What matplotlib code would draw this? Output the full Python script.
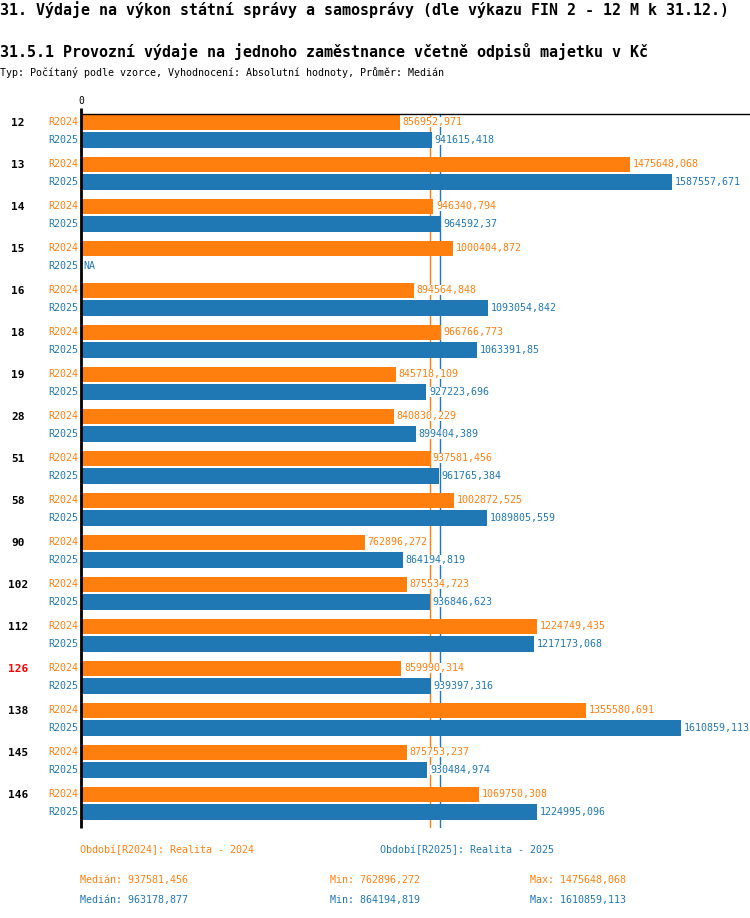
import numpy as np
import matplotlib
matplotlib.use("Agg")
from matplotlib import pyplot as plt
from matplotlib import transforms

# data
groups = ["12", "13", "14", "15", "16", "18", "19", "28", "51", "58",
          "90", "102", "112", "126", "138", "145", "146"]
r2024 = [856952.971, 1475648.068, 946340.794, 1000404.872, 894564.848,
         966766.773, 845718.109, 840830.229, 937581.456, 1002872.525,
         762896.272, 875534.723, 1224749.435, 859990.314, 1355580.691,
         875753.237, 1069750.308]
r2025 = [941615.418, 1587557.671, 964592.37, np.nan, 1093054.842,
         1063391.85, 927223.696, 899404.389, 961765.384, 1089805.559,
         864194.819, 936846.623, 1217173.068, 939397.316, 1610859.113,
         930484.974, 1224995.096]
highlight = "126"

title = "31. Výdaje na výkon státní správy a samosprávy (dle výkazu FIN 2 - 12 M k 31.12.)"
subtitle = "31.5.1 Provozní výdaje na jednoho zaměstnance včetně odpisů majetku v Kč"
info = "Typ: Počítaný podle vzorce, Vyhodnocení: Absolutní hodnoty, Průměr: Medián"
series = ["R2024", "R2025"]
series_desc = ["Období[R2024]: Realita - 2024", "Období[R2025]: Realita - 2025"]

ORANGE = "#ff7f0e"
BLUE = "#1f77b4"
MONO = "DejaVu Sans Mono"
W, H = 750, 918


def fmt(v):
    s = ("%.3f" % v).rstrip("0").rstrip(".")
    return s.replace(".", ",")


fig = plt.figure(figsize=(W / 100, H / 100), dpi=100)
fig.patch.set_facecolor("white")

# axes in pixel layout
x0, x1, ytop, ybot = 81, 750, 114, 828
ax = fig.add_axes([x0 / W, 1 - ybot / H, (x1 - x0) / W, (ybot - ytop) / H])
ax.set_xlim(0, (x1 - x0) / 3.723e-4)
ax.set_ylim(ybot, ytop)
ax.axis("off")

n = len(groups)
pos24 = 122.5 + 42 * np.arange(n)
pos25 = pos24 + 17.5

ax.barh(pos24, r2024, height=15.5, color=ORANGE, zorder=2)
vals25 = np.nan_to_num(np.array(r2025), nan=0.0)
ax.barh(pos25, vals25, height=16, color=BLUE, zorder=2)

# median lines behind bars
med24 = np.nanmedian(r2024)
med25 = np.nanmedian(r2025)
ax.axvline(med24, color=ORANGE, lw=1, zorder=1)
ax.axvline(med25, color=BLUE, lw=1, zorder=1)

# axis lines
ax.plot([0, 0], [ybot, ytop - 6], color="black", lw=2, clip_on=False,
        solid_capstyle="butt", zorder=3)
ax.plot([0, ax.get_xlim()[1]], [ytop, ytop], color="black", lw=1, clip_on=False, zorder=3)
ax.text(0, ytop - 8, "0", family=MONO, fontsize=7, ha="center", va="bottom")

lab_tr = transforms.blended_transform_factory(fig.transFigure, ax.transData)
box = dict(facecolor="white", edgecolor="none", pad=0)
for i, g in enumerate(groups):
    ax.text(18 / W, pos24[i] + 1, g, transform=lab_tr, ha="center", va="center",
            fontsize=8, fontweight="bold", family=MONO,
            color="red" if g == highlight else "black")
    ax.text(78 / W, pos24[i], series[0], transform=lab_tr, ha="right", va="center",
            fontsize=7.2, family=MONO, color=ORANGE)
    ax.text(78 / W, pos25[i], series[1], transform=lab_tr, ha="right", va="center",
            fontsize=7.2, family=MONO, color=BLUE)
    ax.annotate(fmt(r2024[i]), (r2024[i], pos24[i]), xytext=(2, 0),
                textcoords="offset points", va="center", fontsize=7.2,
                family=MONO, color=ORANGE, annotation_clip=False, bbox=box, zorder=4)
    if np.isnan(r2025[i]):
        lab = "NA"
        xv = 0
    else:
        lab = fmt(r2025[i])
        xv = r2025[i]
    ax.annotate(lab, (xv, pos25[i]), xytext=(2, 0), textcoords="offset points",
                va="center", fontsize=7.2, family=MONO, color=BLUE,
                annotation_clip=False, bbox=box, zorder=4)

# header
fig.text(0, 1 - 10 / H, title, family=MONO, fontweight="bold", fontsize=10.8, va="center")
fig.text(0, 1 - 52 / H, subtitle, family=MONO, fontweight="bold", fontsize=10.8, va="center")
fig.text(0, 1 - 73 / H, info, family=MONO, fontsize=7.2, va="center")

# footer
fig.text(80 / W, 1 - 850 / H, series_desc[0], family=MONO, fontsize=7.2, color=ORANGE, va="center")
fig.text(380 / W, 1 - 850 / H, series_desc[1], family=MONO, fontsize=7.2, color=BLUE, va="center")
for vals, col, yy in [(r2024, ORANGE, 880), (r2025, BLUE, 900)]:
    fig.text(80 / W, 1 - yy / H, "Medián: " + fmt(np.nanmedian(vals)), family=MONO,
             fontsize=7.2, color=col, va="center")
    fig.text(330 / W, 1 - yy / H, "Min: " + fmt(np.nanmin(vals)), family=MONO,
             fontsize=7.2, color=col, va="center")
    fig.text(530 / W, 1 - yy / H, "Max: " + fmt(np.nanmax(vals)), family=MONO,
             fontsize=7.2, color=col, va="center")

plt.savefig("out.png", dpi=100)
